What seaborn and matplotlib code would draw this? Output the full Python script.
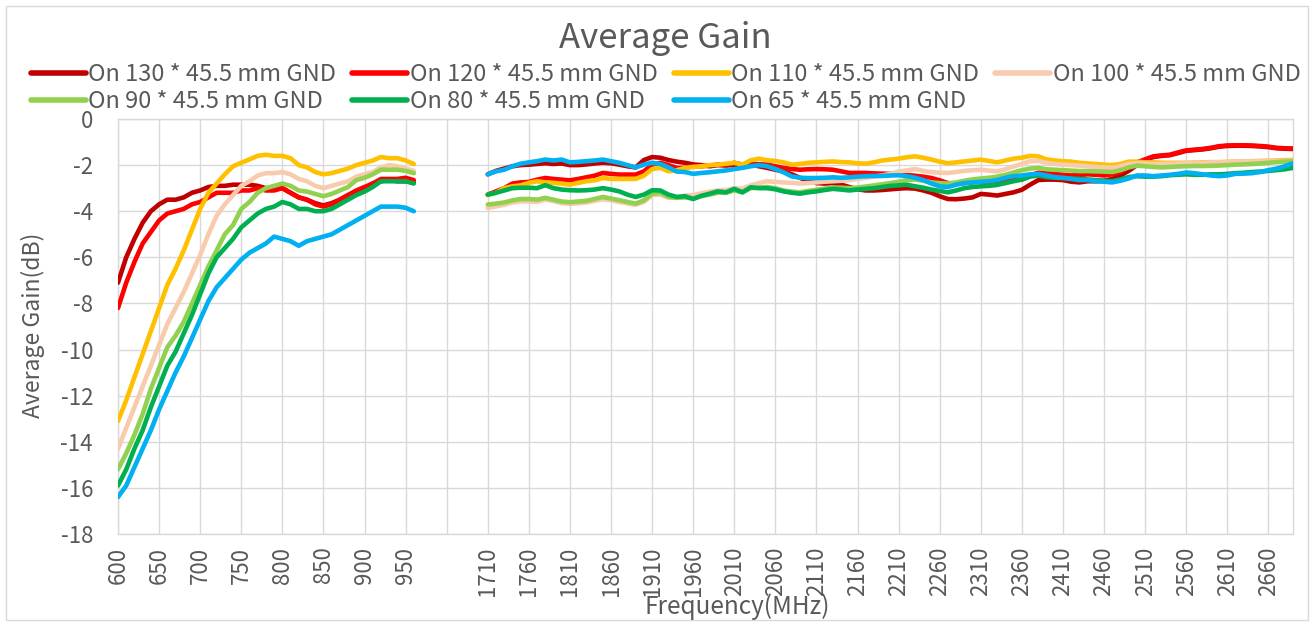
import numpy as np
import pandas as pd
import matplotlib.pyplot as plt
import seaborn as sns
from matplotlib.patches import Rectangle

# ---- data ----
freq_low = list(range(600, 970, 10))      # 600 .. 960 MHz
freq_high = list(range(1710, 2700, 10))   # 1710 .. 2690 MHz
n_blank = 8                               # empty categories between the bands

series = ['On 130 * 45.5 mm GND', 'On 120 * 45.5 mm GND', 'On 110 * 45.5 mm GND',
          'On 100 * 45.5 mm GND', 'On 90 * 45.5 mm GND', 'On 80 * 45.5 mm GND',
          'On 65 * 45.5 mm GND']
colors = ['#C00000', '#FF0000', '#FFC000', '#F8CBAD', '#92D050', '#00B050', '#00B0F0']

low_130 = [-7.1, -6.0, -5.2, -4.5, -4.0, -3.7, -3.5, -3.5, -3.4, -3.2,
           -3.1, -2.95, -2.9, -2.9, -2.85, -2.85, -2.85, -2.9, -3.0, -3.0,
           -3.0, -3.2, -3.4, -3.5, -3.65, -3.75, -3.65, -3.5, -3.3, -3.15,
           -3.0, -2.8, -2.7, -2.65, -2.7, -2.7, -2.75]
low_120 = [-8.2, -7.1, -6.2, -5.4, -4.9, -4.4, -4.1, -4.0, -3.9, -3.7,
           -3.6, -3.4, -3.2, -3.2, -3.2, -3.1, -3.1, -3.0, -3.1, -3.1,
           -3.0, -3.2, -3.4, -3.5, -3.7, -3.8, -3.7, -3.5, -3.3, -3.1,
           -2.95, -2.8, -2.6, -2.6, -2.6, -2.55, -2.65]
low_110 = [-13.1, -12.2, -11.2, -10.2, -9.2, -8.2, -7.2, -6.5, -5.7, -4.8,
           -3.9, -3.2, -2.8, -2.4, -2.05, -1.9, -1.75, -1.6, -1.55, -1.6,
           -1.6, -1.7, -2.0, -2.1, -2.3, -2.4, -2.35, -2.25, -2.15, -2.0,
           -1.9, -1.8, -1.65, -1.7, -1.7, -1.8, -1.95]
low_100 = [-14.3, -13.4, -12.5, -11.6, -10.7, -9.8, -8.9, -8.2, -7.5, -6.7,
           -5.9, -5.0, -4.2, -3.7, -3.3, -2.9, -2.7, -2.45, -2.35, -2.35,
           -2.3, -2.4, -2.6, -2.7, -2.9, -3.0, -2.9, -2.8, -2.7, -2.5,
           -2.4, -2.3, -2.1, -2.0, -2.05, -2.15, -2.25]
low_90 = [-15.2, -14.5, -13.7, -12.8, -11.7, -10.8, -9.9, -9.4, -8.8, -8.0,
          -7.2, -6.4, -5.7, -5.0, -4.6, -3.9, -3.6, -3.2, -3.0, -2.9,
          -2.8, -2.9, -3.1, -3.15, -3.25, -3.35, -3.25, -3.1, -2.95, -2.65,
          -2.55, -2.4, -2.2, -2.2, -2.2, -2.25, -2.35]
low_80 = [-15.9, -15.2, -14.3, -13.5, -12.5, -11.6, -10.7, -10.1, -9.3, -8.5,
          -7.6, -6.7, -6.0, -5.6, -5.2, -4.7, -4.4, -4.1, -3.9, -3.8,
          -3.6, -3.7, -3.9, -3.9, -4.0, -4.0, -3.9, -3.7, -3.5, -3.3,
          -3.15, -2.95, -2.7, -2.7, -2.7, -2.7, -2.8]
low_65 = [-16.4, -15.9, -15.1, -14.3, -13.5, -12.6, -11.8, -11.0, -10.3, -9.5,
          -8.7, -7.9, -7.3, -6.9, -6.5, -6.1, -5.8, -5.6, -5.4, -5.1,
          -5.2, -5.3, -5.5, -5.3, -5.2, -5.1, -5.0, -4.8, -4.6, -4.4,
          -4.2, -4.0, -3.8, -3.8, -3.8, -3.85, -4.0]

high_130 = [-2.40, -2.25, -2.15, -2.05, -2.00, -1.98, -1.95, -1.92, -1.95, -1.93,
            -2.00, -2.00, -1.97, -1.93, -1.90, -1.92, -1.98, -2.05, -2.10, -1.78,
            -1.65, -1.68, -1.78, -1.85, -1.90, -1.97, -2.00, -2.05, -2.00, -2.02,
            -1.98, -2.02, -1.98, -2.05, -2.12, -2.20, -2.27, -2.40, -2.55, -2.70,
            -2.78, -2.80, -2.78, -2.85, -2.95, -3.05, -3.10, -3.10, -3.08, -3.05,
            -3.02, -3.00, -3.02, -3.10, -3.20, -3.35, -3.47, -3.48, -3.45, -3.40,
            -3.25, -3.28, -3.32, -3.25, -3.18, -3.07, -2.85, -2.65, -2.63, -2.63,
            -2.65, -2.72, -2.75, -2.70, -2.70, -2.68, -2.60, -2.45, -2.25, -2.00,
            -1.78, -1.65, -1.60, -1.57, -1.48, -1.38, -1.35, -1.32, -1.27, -1.20,
            -1.17, -1.16, -1.16, -1.17, -1.19, -1.22, -1.27, -1.29, -1.30]
high_120 = [-3.28, -3.14, -3.00, -2.80, -2.75, -2.73, -2.63, -2.56, -2.60, -2.63,
            -2.66, -2.60, -2.53, -2.46, -2.34, -2.38, -2.41, -2.41, -2.41, -2.27,
            -1.98, -1.90, -2.00, -2.12, -2.12, -2.05, -2.05, -2.02, -1.98, -1.98,
            -1.90, -1.98, -1.94, -1.96, -1.98, -2.05, -2.12, -2.17, -2.20, -2.18,
            -2.17, -2.18, -2.20, -2.27, -2.34, -2.34, -2.34, -2.36, -2.37, -2.38,
            -2.40, -2.43, -2.46, -2.50, -2.56, -2.66, -2.78, -2.80, -2.78, -2.74,
            -2.72, -2.72, -2.70, -2.68, -2.64, -2.62, -2.45, -2.33, -2.35, -2.38,
            -2.42, -2.45, -2.43, -2.40, -2.42, -2.45, -2.40, -2.30, -2.10, -1.88,
            -1.75, -1.62, -1.58, -1.55, -1.45, -1.36, -1.33, -1.30, -1.25, -1.18,
            -1.15, -1.14, -1.14, -1.15, -1.17, -1.20, -1.25, -1.27, -1.28]
high_110 = [-3.30, -3.20, -3.00, -2.92, -2.88, -2.77, -2.70, -2.75, -2.77, -2.80,
            -2.85, -2.77, -2.70, -2.66, -2.56, -2.60, -2.60, -2.60, -2.60, -2.46,
            -2.17, -2.12, -2.27, -2.22, -2.12, -2.08, -2.05, -2.00, -1.98, -1.94,
            -1.90, -1.98, -1.79, -1.72, -1.79, -1.82, -1.88, -1.98, -1.95, -1.90,
            -1.88, -1.86, -1.84, -1.87, -1.88, -1.92, -1.94, -1.88, -1.80, -1.76,
            -1.72, -1.66, -1.62, -1.68, -1.76, -1.85, -1.92, -1.88, -1.84, -1.80,
            -1.76, -1.82, -1.88, -1.80, -1.72, -1.68, -1.60, -1.62, -1.75, -1.80,
            -1.83, -1.85, -1.90, -1.93, -1.95, -1.98, -2.00, -1.95, -1.85, -1.85,
            -1.88, -1.88, -1.90, -1.90, -1.90, -1.90, -1.89, -1.88, -1.87, -1.87,
            -1.86, -1.85, -1.84, -1.83, -1.82, -1.81, -1.80, -1.78, -1.77]
high_100 = [-3.86, -3.79, -3.72, -3.62, -3.58, -3.57, -3.60, -3.50, -3.56, -3.65,
            -3.68, -3.66, -3.62, -3.55, -3.48, -3.53, -3.60, -3.66, -3.72, -3.60,
            -3.30, -3.28, -3.42, -3.42, -3.32, -3.30, -3.22, -3.15, -3.10, -3.08,
            -3.00, -3.02, -2.88, -2.78, -2.70, -2.73, -2.75, -2.77, -2.80, -2.78,
            -2.75, -2.72, -2.70, -2.68, -2.65, -2.60, -2.55, -2.50, -2.45, -2.38,
            -2.28, -2.23, -2.17, -2.25, -2.30, -2.33, -2.34, -2.30, -2.25, -2.22,
            -2.20, -2.24, -2.27, -2.18, -2.06, -1.95, -1.83, -1.82, -1.90, -1.95,
            -1.98, -2.00, -2.02, -2.05, -2.08, -2.10, -2.12, -2.05, -1.95, -1.92,
            -1.93, -1.95, -1.95, -1.94, -1.93, -1.92, -1.90, -1.90, -1.88, -1.88,
            -1.87, -1.85, -1.84, -1.84, -1.83, -1.82, -1.82, -1.81, -1.80]
high_90 = [-3.71, -3.67, -3.62, -3.53, -3.47, -3.47, -3.50, -3.42, -3.50, -3.58,
           -3.61, -3.58, -3.55, -3.47, -3.38, -3.45, -3.52, -3.60, -3.67, -3.53,
           -3.24, -3.20, -3.38, -3.42, -3.40, -3.45, -3.35, -3.28, -3.20, -3.20,
           -3.10, -3.18, -3.00, -2.98, -2.95, -3.00, -3.10, -3.15, -3.18, -3.12,
           -3.07, -3.02, -2.98, -2.98, -3.00, -2.97, -2.93, -2.88, -2.83, -2.78,
           -2.72, -2.65, -2.62, -2.68, -2.75, -2.78, -2.80, -2.75, -2.68, -2.62,
           -2.58, -2.55, -2.50, -2.42, -2.32, -2.22, -2.15, -2.12, -2.18, -2.20,
           -2.22, -2.24, -2.26, -2.26, -2.27, -2.28, -2.30, -2.22, -2.10, -2.02,
           -2.05, -2.08, -2.10, -2.08, -2.06, -2.05, -2.04, -2.04, -2.03, -2.02,
           -2.00, -1.98, -1.97, -1.95, -1.93, -1.90, -1.87, -1.85, -1.83]
high_80 = [-3.28, -3.20, -3.10, -3.00, -2.98, -2.98, -3.00, -2.87, -3.00, -3.06,
           -3.09, -3.10, -3.09, -3.06, -3.00, -3.06, -3.14, -3.28, -3.38, -3.28,
           -3.09, -3.10, -3.28, -3.38, -3.35, -3.47, -3.33, -3.24, -3.14, -3.18,
           -3.03, -3.18, -2.96, -3.00, -3.00, -3.05, -3.14, -3.20, -3.24, -3.18,
           -3.14, -3.08, -3.03, -3.06, -3.10, -3.06, -3.03, -3.00, -2.95, -2.90,
           -2.88, -2.85, -2.92, -2.98, -3.06, -3.12, -3.18, -3.10, -3.00, -2.95,
           -2.92, -2.90, -2.86, -2.78, -2.70, -2.63, -2.50, -2.45, -2.52, -2.55,
           -2.56, -2.58, -2.60, -2.62, -2.65, -2.68, -2.70, -2.62, -2.52, -2.48,
           -2.50, -2.50, -2.48, -2.44, -2.42, -2.40, -2.42, -2.42, -2.40, -2.40,
           -2.38, -2.35, -2.33, -2.30, -2.28, -2.25, -2.22, -2.18, -2.12]
high_65 = [-2.40, -2.27, -2.20, -2.05, -1.94, -1.88, -1.83, -1.76, -1.80, -1.76,
           -1.88, -1.86, -1.83, -1.80, -1.76, -1.83, -1.90, -2.00, -2.10, -1.98,
           -1.90, -1.95, -2.10, -2.28, -2.30, -2.38, -2.34, -2.31, -2.27, -2.23,
           -2.17, -2.12, -2.05, -2.00, -2.05, -2.17, -2.31, -2.49, -2.55, -2.56,
           -2.56, -2.55, -2.53, -2.55, -2.53, -2.50, -2.48, -2.47, -2.47, -2.45,
           -2.44, -2.48, -2.55, -2.65, -2.80, -2.92, -2.95, -2.85, -2.78, -2.75,
           -2.72, -2.70, -2.65, -2.55, -2.48, -2.45, -2.40, -2.38, -2.45, -2.52,
           -2.55, -2.60, -2.65, -2.65, -2.70, -2.72, -2.75, -2.68, -2.58, -2.45,
           -2.45, -2.48, -2.45, -2.42, -2.38, -2.32, -2.35, -2.40, -2.45, -2.48,
           -2.45, -2.38, -2.37, -2.35, -2.30, -2.22, -2.15, -2.05, -1.92]

low_vals = [low_130, low_120, low_110, low_100, low_90, low_80, low_65]
high_vals = [high_130, high_120, high_110, high_100, high_90, high_80, high_65]

# category axis like Excel: low band, a few empty categories, high band
categories = [str(f) for f in freq_low] + [''] * n_blank + [str(f) for f in freq_high]
pos_low = list(range(len(freq_low)))
pos_high = list(range(len(freq_low) + n_blank, len(categories)))

rows = []
for name, lv, hv in zip(series, low_vals, high_vals):
    for p, v in zip(pos_low, lv):
        rows.append((name, 'low', p, v))
    for p, v in zip(pos_high, hv):
        rows.append((name, 'high', p, v))
df = pd.DataFrame(rows, columns=['series', 'band', 'pos', 'gain'])

sns.set_style('white')
plt.rcParams['font.family'] = ['Noto Sans CJK SC', 'DejaVu Sans']
plt.rcParams['axes.unicode_minus'] = False
grey = '#595959'
gridc = '#D9D9D9'

fig = plt.figure(figsize=(13.14, 6.26), dpi=100)
ax = fig.add_axes([118 / 1314, 1 - 534 / 626, (1293 - 118) / 1314, (534 - 119) / 626])

sns.lineplot(data=df, x='pos', y='gain', hue='series', units='band', estimator=None,
             palette=colors, hue_order=series, linewidth=3.3, ax=ax, legend=False,
             solid_capstyle='round', solid_joinstyle='round', zorder=3)

ax.set_xlim(0, len(categories) - 1)
ax.set_ylim(-18, 0)
ax.set_yticks(range(-18, 1, 2))
ax.set_xticks(range(0, len(categories), 5))
ax.set_xticklabels(categories[::5], rotation=90)
ax.tick_params(axis='both', length=0, labelsize=16, labelcolor=grey)
ax.tick_params(axis='y', pad=18)
ax.tick_params(axis='x', pad=9)
ax.grid(True, color=gridc, linewidth=1.0)
ax.set_axisbelow(True)
for s in ax.spines.values():
    s.set_color(gridc)
    s.set_linewidth(1.0)
ax.set_xlabel('')
ax.set_ylabel('')

fig.text(665 / 1314, 1 - 38 / 626, 'Average Gain', ha='center', va='center',
         fontsize=25, color=grey)
fig.text(737 / 1314, 1 - 607 / 626, 'Frequency(MHz)', ha='center', va='center',
         fontsize=17.5, color=grey)
fig.text(33 / 1314, 1 - 325 / 626, 'Average Gain(dB)', ha='center', va='center',
         rotation=90, fontsize=16.5, color=grey)

# Excel fills the legend row by row, matplotlib column by column
order = [0, 4, 1, 5, 2, 6, 3]
handles = [plt.Line2D([], [], color=colors[i], linewidth=4, solid_capstyle='round') for i in order]
labels = [series[i] for i in order]
fig.legend(handles, labels, loc='upper left', bbox_to_anchor=(31 / 1314, 1 - 63 / 626),
           ncol=4, frameon=False, fontsize=17, handlelength=2.33, handletextpad=0.1,
           columnspacing=0.68, labelspacing=0.16, borderpad=0, borderaxespad=0,
           labelcolor=grey)

fig.patches.append(Rectangle((6 / 1314, 6 / 626), 1302 / 1314, 614 / 626,
                             transform=fig.transFigure, fill=False,
                             edgecolor=gridc, linewidth=1.0))

fig.savefig('out.png', dpi=100)
